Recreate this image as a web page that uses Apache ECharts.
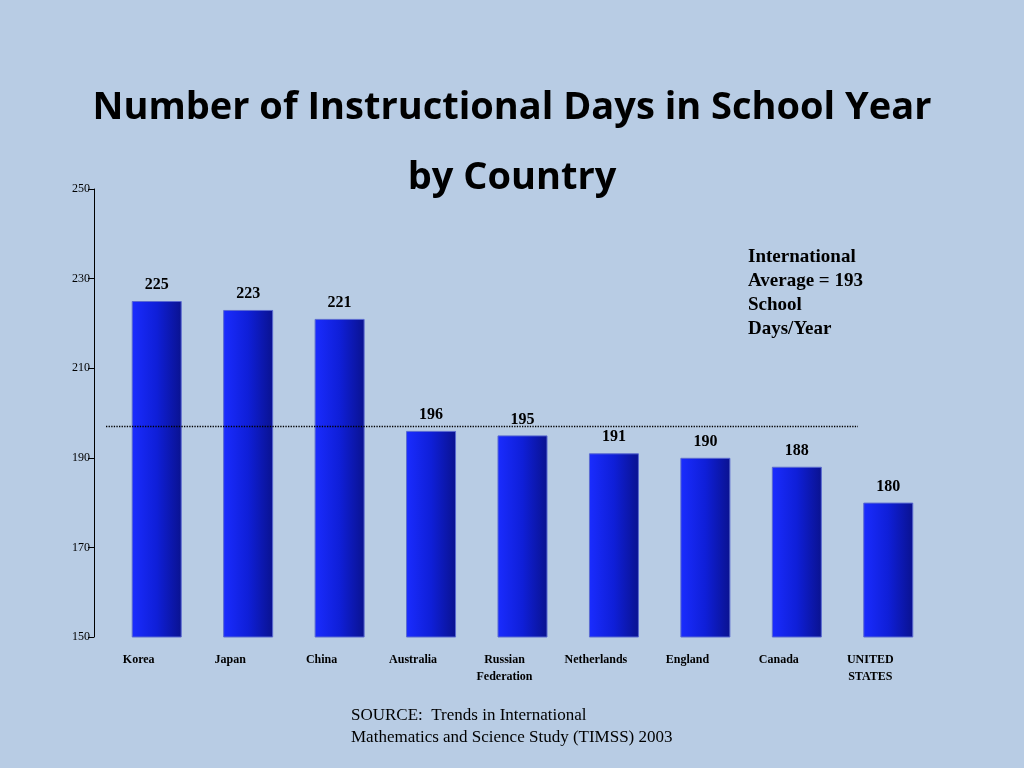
<!DOCTYPE html>
<html>
<head>
<meta charset="utf-8">
<script src="https://cdn.jsdelivr.net/npm/echarts@6/dist/echarts.min.js"></script>
<style>html,body{margin:0;background:#b8cce4;}#chart{width:1024px;height:768px;}</style>
</head>
<body>
<div id="chart"></div>
<script>
var countries = ['Korea', 'Japan', 'China', 'Australia', 'Russian\nFederation', 'Netherlands', 'England', 'Canada', 'UNITED\nSTATES'];
var days = [225, 223, 221, 196, 195, 191, 190, 188, 180];
var avgLine = 197;

var myChart = echarts.init(document.getElementById('chart'));
myChart.setOption({
    backgroundColor: '#b8cce4',
    title: {
        text: 'Number of Instructional Days in School Year\nby Country',
        left: 'center',
        top: 68,
        textStyle: {fontFamily: 'Open Sans', fontWeight: 'bold', fontSize: 38, color: '#000', lineHeight: 70}
    },
    grid: {left: 111, right: 90, top: 189, bottom: 131},
    xAxis: {
        type: 'category',
        data: countries,
        axisLine: {show: false},
        axisTick: {show: false},
        axisLabel: {
            fontFamily: 'Liberation Serif', fontWeight: 'bold', fontSize: 12, color: '#000',
            margin: 14, lineHeight: 17, padding: [0, 36, 0, 0]
        }
    },
    yAxis: {
        type: 'value',
        min: 150, max: 250, interval: 20,
        offset: 17,
        splitLine: {show: false},
        axisLine: {show: true, lineStyle: {color: '#000'}},
        axisTick: {show: true, length: 6, lineStyle: {color: '#000'}},
        axisLabel: {fontFamily: 'Liberation Serif', fontSize: 12, color: '#000', margin: 4}
    },
    series: [{
        type: 'bar',
        data: days,
        barWidth: 50,
        itemStyle: {
            color: new echarts.graphic.LinearGradient(0, 0, 1, 0, [
                {offset: 0, color: '#1a2cff'},
                {offset: 0.5, color: '#0f1fd8'},
                {offset: 1, color: '#0a128f'}
            ]),
            borderColor: '#5a6ad0', borderWidth: 1
        },
        label: {
            show: true, position: 'top', distance: 8,
            fontFamily: 'Liberation Serif', fontWeight: 'bold', fontSize: 16, color: '#000'
        },
        markLine: {
            silent: true,
            symbol: 'none',
            label: {show: false},
            lineStyle: {color: '#000', type: 'dotted', width: 1.3},
            data: [[{x: 106, yAxis: avgLine}, {x: 858, yAxis: avgLine}]]
        }
    }],
    graphic: [{
        type: 'text', left: 748, top: 245,
        style: {
            text: 'International\nAverage = 193\nSchool\nDays/Year',
            align: 'center', x: 62, font: 'bold 19px "Liberation Serif"', lineHeight: 24, fill: '#000'
        }
    }, {
        type: 'text', left: 351, top: 705,
        style: {
            text: 'SOURCE:  Trends in International\nMathematics and Science Study (TIMSS) 2003',
            font: '17px "Liberation Serif"', lineHeight: 22, fill: '#000'
        }
    }]
});
</script>
</body>
</html>
